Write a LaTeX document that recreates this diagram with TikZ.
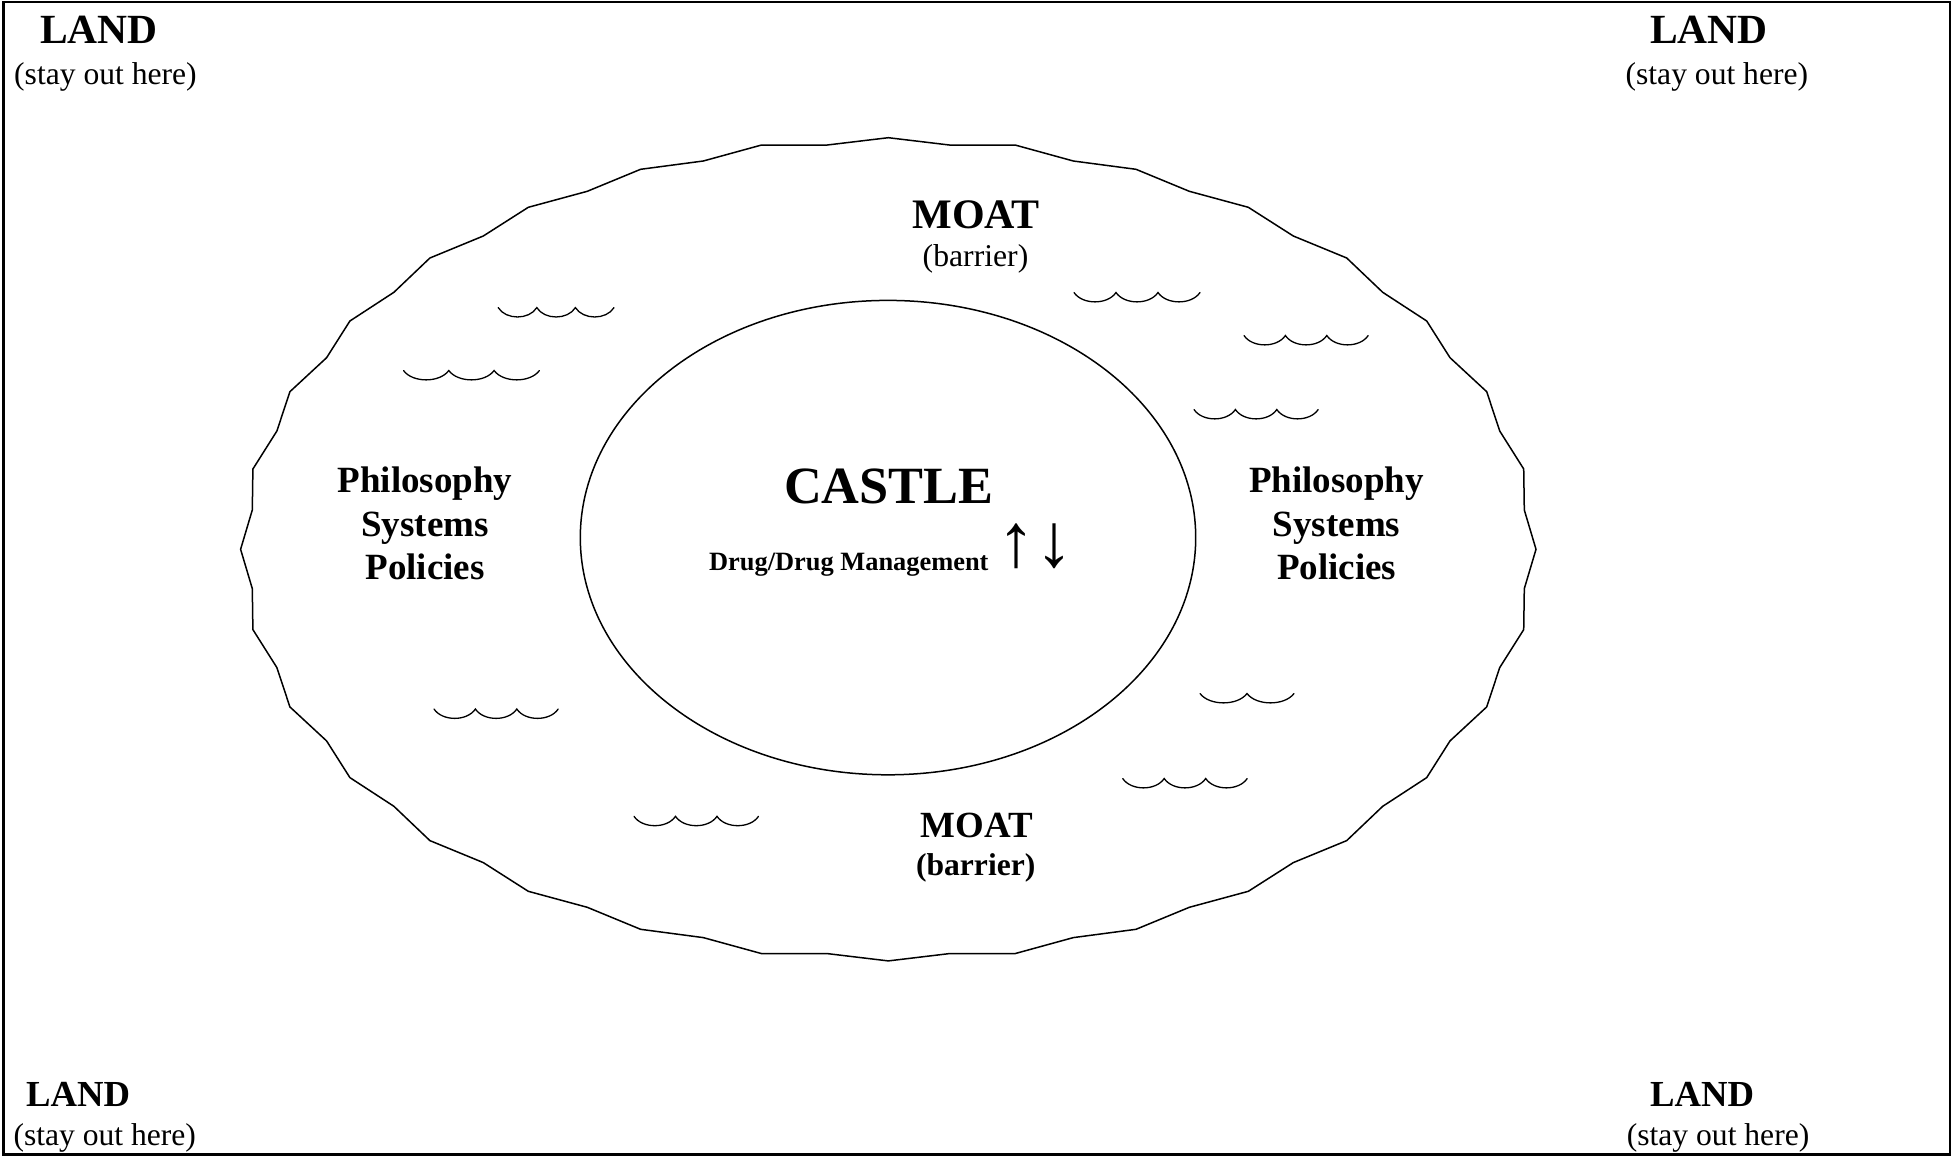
\documentclass[tikz,border=0pt]{standalone}
\usepackage{fontspec}
\setmainfont{Liberation Serif}
\newcommand\setfs[1]{\fontsize{#1}{#1}\selectfont}
\tikzset{
  frameline/.style={line width=2.3pt},
  moatline/.style={line width=1.5pt, line join=miter},
  castleline/.style={line width=1.5pt},
  waveline/.style={line width=1.3pt, line cap=round},
  ctext/.style={inner sep=0pt, anchor=base},
  ltext/.style={inner sep=0pt, anchor=base west},
}
\begin{document}
\begin{tikzpicture}[x=1pt,y=-1pt]
\useasboundingbox (0,0) rectangle (1953,1156);
% frame
\draw[frameline] (3.5,2) rectangle (1950,1154.5);
% moat outline
\begin{scope}[shift={(888.3,549.3)}]
\draw[moatline] (0,-411.6) -- (61,-404.3) -- (126.7,-404.3) -- (185,-388.3) -- (247.7,-380) -- (301,-358) -- (360,-342) -- (405,-313.3) -- (458.4,-291.3) -- (494.4,-257) -- (538.4,-228.3) -- (561.7,-191.6) -- (598.4,-157.6) -- (611.4,-118.3) -- (635.4,-80.3) -- (636,-39.3) -- (647.7,0) -- (636,39.3) -- (635.4,80.3) -- (611.4,118.3) -- (598.4,157.6) -- (561.7,191.6) -- (538.4,228.3) -- (494.4,257) -- (458.4,291.3) -- (405,313.3) -- (360,342) -- (301,358) -- (247.7,380) -- (185,388.3) -- (126.7,404.3) -- (61,404.3) -- (0,411.6) -- (-61,404.3) -- (-126.7,404.3) -- (-185,388.3) -- (-247.7,380) -- (-301,358) -- (-360,342) -- (-405,313.3) -- (-458.4,291.3) -- (-494.4,257) -- (-538.4,228.3) -- (-561.7,191.6) -- (-598.4,157.6) -- (-611.4,118.3) -- (-635.4,80.3) -- (-636,39.3) -- (-647.7,0) -- (-636,-39.3) -- (-635.4,-80.3) -- (-611.4,-118.3) -- (-598.4,-157.6) -- (-561.7,-191.6) -- (-538.4,-228.3) -- (-494.4,-257) -- (-458.4,-291.3) -- (-405,-313.3) -- (-360,-342) -- (-301,-358) -- (-247.7,-380) -- (-185,-388.3) -- (-126.7,-404.3) -- (-61,-404.3) -- cycle;
\end{scope}
% castle
\draw[castleline] (888,537.6) ellipse [x radius=307.7, y radius=237.2];
% waves
\foreach \x/\y/\w/\n in {498.2/307.6/38.6/3, 403.5/370.5/45.3/3, 1074/292.5/42/3, 1244/335.5/41.4/3, 1194/409.5/41.4/3, 434/709/41.4/3, 1200/693.5/47/2, 1122.7/778.5/41.5/3, 634/816.3/41.5/3}{
  \draw[waveline] (\x,\y) foreach \i in {1,...,\n} { .. controls +(0.2*\w,12.5) and +(-0.2*\w,12.5) .. ++(\w,0) };
}
% land labels
\node[ltext, font=\setfs{41.5}\bfseries] (land1) at (40,43.3) {LAND};
\node[ltext, font=\setfs{31.6}] (stay1) at (14,84.5) {(stay out here)};
\node[ltext, font=\setfs{41.5}\bfseries] (land2) at (1650,43.3) {LAND};
\node[ltext, font=\setfs{31.6}] (stay2) at (1625.4,84.5) {(stay out here)};
\node[ltext, font=\setfs{36.7}\bfseries] (land3) at (26,1106.7) {LAND};
\node[ltext, font=\setfs{31.6}] (stay3) at (13.3,1145) {(stay out here)};
\node[ltext, font=\setfs{36.7}\bfseries] (land4) at (1650,1106.7) {LAND};
\node[ltext, font=\setfs{31.6}] (stay4) at (1626.6,1145) {(stay out here)};
% moat labels
\node[ctext, font=\setfs{42}\bfseries] (moat1) at (976.2,228.3) {MOAT};
\node[ctext, font=\setfs{31.7}] (bar1) at (975.5,266.7) {(barrier)};
\node[ctext, font=\setfs{36.9}\bfseries] (moat2) at (976.7,837) {MOAT};
\node[ctext, font=\setfs{31.6}\bfseries] (bar2) at (975.7,875.5) {(barrier)};
% castle labels
\node[ctext, font=\setfs{52.3}\bfseries] (castle) at (888.7,503.3) {CASTLE};
\node[ctext, font=\setfs{26.4}\bfseries] (drug) at (848.8,570) {Drug/Drug Management};
\node[inner sep=0pt, font=\setfs{76}\bfseries] (arrows) at (1035.8,546) {↑↓};
% philosophy labels
\node[ctext, font=\setfs{37}\bfseries] (phl) at (425,492.7) {Philosophy};
\node[ctext, font=\setfs{37}\bfseries] (syl) at (425,536) {Systems};
\node[ctext, font=\setfs{37}\bfseries] (pol) at (425,579.5) {Policies};
\node[ctext, font=\setfs{37}\bfseries] (phr) at (1336.6,492.7) {Philosophy};
\node[ctext, font=\setfs{37}\bfseries] (syr) at (1336.6,536) {Systems};
\node[ctext, font=\setfs{37}\bfseries] (por) at (1336.6,579.5) {Policies};
\end{tikzpicture}
\end{document}
